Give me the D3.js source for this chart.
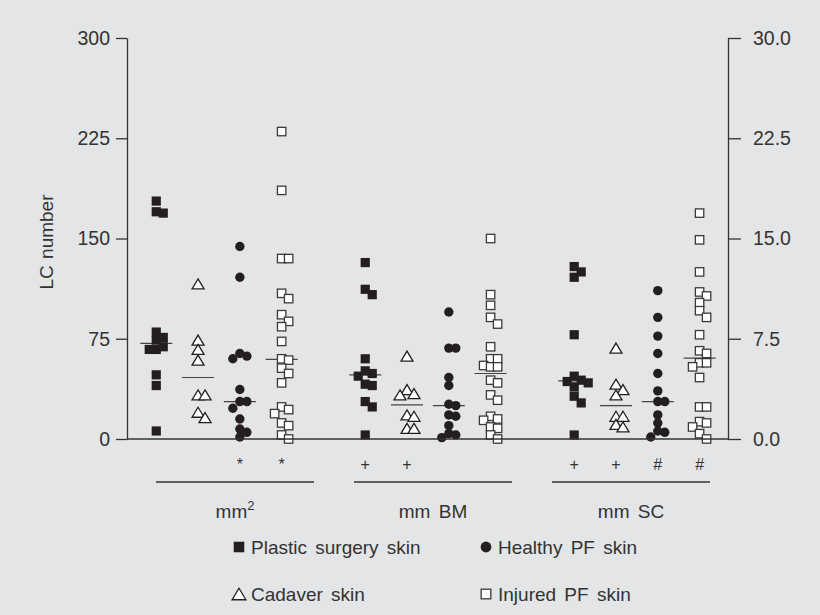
<!DOCTYPE html>
<html lang="en">
    <head>
        <meta charset="utf-8">
        <title>LC number</title>
        <script src="https://d3js.org/d3.v7.min.js"></script>

        <style type="text/css">
            body { margin: 0; background: #e4e5e7; }
            svg { display: block; }
            /*axis text*/
            .axis text { font-family: "Liberation Sans", Arial, sans-serif; font-size: 19.5px; fill: #333; }
            .axis path, .axis line { stroke: #333; stroke-width: 1.3px; }
            .label { font-family: "Liberation Sans", Arial, sans-serif; font-size: 19px; fill: #333; word-spacing: 3px; }
        </style>
    </head>
    <body>
        <script type="text/javascript">

            //values, mm2 in LC/mm2 (left axis), BM and SC in LC/mm (right axis)
            var groups = ["mm2", "mm BM", "mm SC"];
            var series = ["Plastic surgery skin", "Cadaver skin", "Healthy PF skin", "Injured PF skin"];

            var areaPlastic = [178, 170, 169, 80, 76, 74, 69, 67, 67, 48, 40, 6];
            var areaCadaver = [116, 74, 67, 59, 33, 33, 20, 16];
            var areaHealthy = [144, 121, 64, 62, 60, 37, 28, 28, 23, 15, 7.5, 5, 1.5];
            var areaInjured = [230, 186, 135, 135, 109, 105, 93, 88, 84, 73, 60, 59, 53, 49, 42, 24, 22, 19, 12, 10, 3, 0];

            var bmPlastic = [13.2, 11.2, 10.8, 6.0, 5.1, 4.9, 4.7, 4.1, 4.0, 2.8, 2.4, 0.3];
            var bmCadaver = [6.2, 3.7, 3.4, 3.3, 1.8, 1.7, 0.8, 0.8];
            var bmHealthy = [9.5, 6.8, 6.8, 4.6, 4.0, 2.6, 2.5, 1.8, 1.7, 1.0, 0.4, 0.3, 0.1];
            var bmInjured = [15.0, 10.8, 10.0, 9.1, 8.6, 6.9, 6.0, 6.0, 5.5, 5.4, 5.4, 4.4, 4.2, 3.3, 2.9, 1.7, 1.5, 1.4, 0.9, 0.8, 0.3, 0.0];

            var scPlastic = [12.9, 12.5, 12.1, 7.8, 4.7, 4.4, 4.3, 4.2, 3.9, 3.2, 2.7, 0.3];
            var scCadaver = [6.8, 4.1, 3.7, 3.3, 1.7, 1.7, 1.1, 0.9];
            var scHealthy = [11.1, 9.1, 7.7, 6.4, 4.9, 3.6, 2.8, 2.8, 1.8, 1.2, 0.6, 0.5, 0.15];
            var scInjured = [16.9, 14.9, 12.5, 11.0, 10.7, 10.2, 9.6, 9.1, 7.8, 6.6, 6.4, 5.7, 5.7, 5.4, 4.6, 2.4, 2.4, 1.3, 1.2, 0.9, 0.4, 0.0];

            var leftTicks = [0, 75, 150, 225, 300];
            var rightTicks = [0, 7.5, 15, 22.5, 30];

            //significance marks under the columns
            var signs = [
                {group: 0, series: 2, text: "*"}, {group: 0, series: 3, text: "*"},
                {group: 1, series: 0, text: "+"}, {group: 1, series: 1, text: "+"},
                {group: 2, series: 0, text: "+"}, {group: 2, series: 1, text: "+"},
                {group: 2, series: 2, text: "#"}, {group: 2, series: 3, text: "#"}
            ];

            var columns = [
                [areaPlastic, areaCadaver, areaHealthy, areaInjured],
                [bmPlastic, bmCadaver, bmHealthy, bmInjured],
                [scPlastic, scCadaver, scHealthy, scInjured]
            ];

            //set the scale of graph
            var margin = {top: 38, right: 92, bottom: 176, left: 127},
                width = 820 - margin.left - margin.right,
                height = 615 - margin.top - margin.bottom;

            // column slots: 4 series + 1 gap per group
            var xSlot = d3.scaleLinear().domain([-0.7, 13.68]).range([0, width]);
            var colX = function(g, s) { return xSlot(g * 5 + s); };
            var xGroup = d3.scalePoint().domain(groups).range([108, 504]);

            var yLeft = d3.scaleLinear().domain([0, 300]).range([height, 0]);
            var yRight = d3.scaleLinear().domain([0, 30]).range([height, 0]);
            var yFor = function(g) { return g === 0 ? yLeft : yRight; };

            var svg = d3.select("body").append("svg")
                .attr("width", 820)
                .attr("height", 615)
                .append("g")
                .attr("transform", "translate(" + margin.left + "," + margin.top + ")");

            // marker shapes
            var ink = "#231f20";
            var triPath = function(w, h) {
                return "M0," + (-h / 2) + "L" + (w / 2) + "," + (h / 2) + "L" + (-w / 2) + "," + (h / 2) + "Z";
            };
            function drawMarker(sel, s, big) {
                var k = big ? 1.15 : 1;
                if (s === 0) {
                    sel.append("rect").attr("x", -4.6 * k).attr("y", -4.6 * k)
                        .attr("width", 9.2 * k).attr("height", 9.2 * k).attr("fill", ink);
                } else if (s === 1) {
                    sel.append("path").attr("d", triPath(12 * k, 10 * k))
                        .attr("fill", "#fff").attr("stroke", ink).attr("stroke-width", 1.3);
                } else if (s === 2) {
                    sel.append("circle").attr("r", 4.7 * k).attr("fill", ink);
                } else {
                    sel.append("rect").attr("x", -4.2 * k).attr("y", -4.2 * k)
                        .attr("width", 8.4 * k).attr("height", 8.4 * k)
                        .attr("fill", "#fff").attr("stroke", "#3a3a3a").attr("stroke-width", 1.3);
                }
            }

            // spread points that sit too close to each other sideways
            function dodge(values, y) {
                var order = d3.range(values.length).sort(function(a, b) { return values[b] - values[a]; });
                var placed = [], out = [];
                var steps = [0, 1, -1, 2, -2, 3, -3];
                order.forEach(function(i) {
                    var py = y(values[i]);
                    for (var j = 0; j < steps.length; j++) {
                        var dx = steps[j] * 7;
                        var hit = placed.some(function(p) { return Math.abs(p.y - py) < 8 && Math.abs(p.dx - dx) < 7; });
                        if (!hit) break;
                    }
                    placed.push({y: py, dx: dx});
                    out.push({value: values[i], dx: dx});
                });
                return out;
            }

            // median bars
            columns.forEach(function(cols, g) {
                cols.forEach(function(vals, s) {
                    var y = yFor(g)(d3.median(vals));
                    svg.append("line")
                        .attr("x1", colX(g, s) - 16).attr("x2", colX(g, s) + 16)
                        .attr("y1", y).attr("y2", y)
                        .attr("stroke", "#444").attr("stroke-width", 1.2);
                });
            });

            // draw dots
            columns.forEach(function(cols, g) {
                cols.forEach(function(vals, s) {
                    var y = yFor(g);
                    var pts = dodge(vals, y);
                    svg.selectAll(".dot-" + g + "-" + s)
                        .data(pts)
                        .enter().append("g")
                        .attr("class", "dot-" + g + "-" + s)
                        .attr("transform", function(d) { return "translate(" + (colX(g, s) + d.dx) + "," + y(d.value) + ")"; })
                        .each(function() { drawMarker(d3.select(this), s, false); });
                });
            });

            // y-axis left
            svg.append("g")
                .attr("class", "axis")
                .call(d3.axisLeft(yLeft).tickValues(leftTicks).tickSize(11).tickSizeOuter(0).tickPadding(6));

            // y-axis right
            svg.append("g")
                .attr("class", "axis")
                .attr("transform", "translate(" + width + ",0)")
                .call(d3.axisRight(yRight).tickValues(rightTicks).tickFormat(d3.format(".1f"))
                    .tickSize(13).tickSizeOuter(0).tickPadding(12));

            // bottom line
            svg.append("line")
                .attr("x1", 0).attr("x2", width)
                .attr("y1", height).attr("y2", height)
                .attr("stroke", "#333").attr("stroke-width", 1.3);

            // y label
            svg.append("text")
                .attr("class", "label")
                .attr("transform", "translate(" + (53 - margin.left) + "," + (242 - margin.top) + ") rotate(-90)")
                .style("text-anchor", "middle")
                .style("word-spacing", "1px")
                .text("LC number");

            // significance marks
            svg.selectAll(".sign")
                .data(signs)
                .enter().append("text")
                .attr("class", "label sign")
                .attr("x", function(d) { return colX(d.group, d.series); })
                .attr("y", height + 31)
                .style("text-anchor", "middle")
                .style("font-size", "16px")
                .text(function(d) { return d.text; });

            // group lines and names
            var grp = svg.selectAll(".grp")
                .data(groups)
                .enter().append("g")
                .attr("class", "grp")
                .attr("transform", function(d) { return "translate(" + xGroup(d) + ",0)"; });
            grp.append("line")
                .attr("x1", -79).attr("x2", 79)
                .attr("y1", height + 43).attr("y2", height + 43)
                .attr("stroke", "#333").attr("stroke-width", 1.3);
            var gl = grp.append("text")
                .attr("class", "label")
                .attr("y", height + 79)
                .style("text-anchor", "middle");
            gl.each(function(d) {
                var t = d3.select(this);
                if (d === "mm2") {
                    t.append("tspan").text("mm");
                    t.append("tspan").attr("dy", -8).style("font-size", "13px").text("2");
                } else {
                    t.text(d);
                }
            });

            // legend
            var legendPos = [[239, 547], [239, 594], [486, 547], [486, 594]];
            var legend = svg.selectAll(".legend")
                .data(series)
                .enter().append("g")
                .attr("class", "legend")
                .attr("transform", function(d, i) {
                    return "translate(" + (legendPos[i][0] - margin.left) + "," + (legendPos[i][1] - margin.top) + ")";
                });
            legend.each(function(d, i) { drawMarker(d3.select(this), i, true); });
            legend.append("text")
                .attr("class", "label")
                .attr("x", 12)
                .attr("y", 6.5)
                .text(function(d) { return d; });
        </script>
    </body>
</html>
